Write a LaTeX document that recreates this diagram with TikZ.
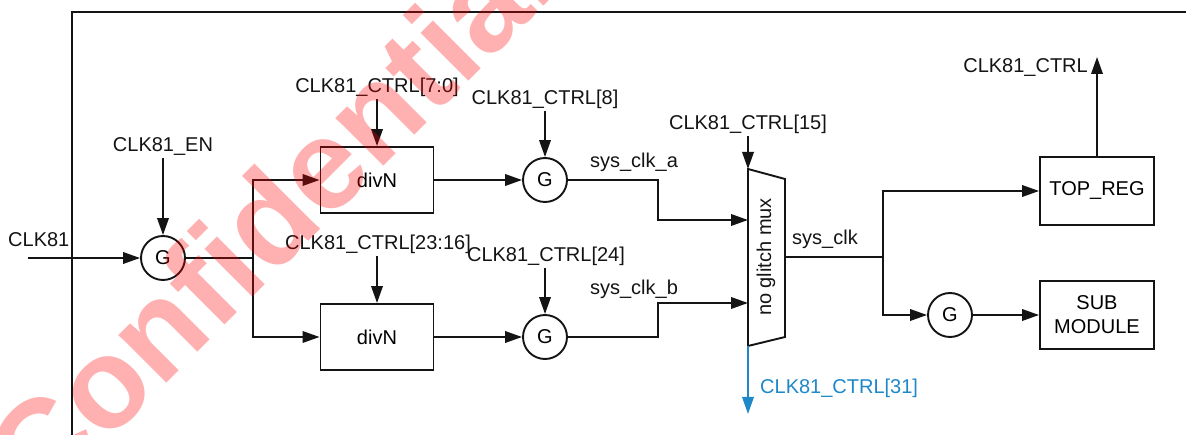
\documentclass[tikz,border=0pt]{standalone}
\usepackage{fontspec}
\setmainfont{Liberation Sans}
\usetikzlibrary{arrows.meta}
\definecolor{ink}{RGB}{20,20,20}
\definecolor{ctrlblue}{RGB}{30,136,200}
\begin{document}
\begin{tikzpicture}[x=1pt,y=-1pt,
  wire/.style={line width=1.9pt,draw=ink},
  arr/.style={wire,-{Triangle[length=17pt,width=11.5pt]}},
  lbl/.style={font=\fontsize{20pt}{24pt}\selectfont,inner sep=2pt,text=ink},
  gate/.style={circle,wire,minimum size=44pt,inner sep=0pt,font=\fontsize{20pt}{24pt}\selectfont},
  blk/.style={rectangle,wire,minimum width=113pt,minimum height=66pt,inner sep=0pt,font=\fontsize{20pt}{24pt}\selectfont,align=center},
]
\useasboundingbox (0,0) rectangle (1186,435);
\clip (0,0) rectangle (1186,435);
\fill[white] (0,0) rectangle (1186,435);

% frame
\draw[wire] (1190,12) -- (72,12) -- (72,440);

% blocks
\node[gate] (g1) at (163,258) {G};
\node[blk] (div1) at (377,180) {divN};
\node[blk] (div2) at (377,337) {divN};
\node[gate] (g2) at (545,180) {G};
\node[gate] (g3) at (545,337) {G};
\node[gate] (g4) at (950,315) {G};
\node[blk,minimum width=114pt,minimum height=68pt] (top) at (1097,191) {TOP\_REG};
\node[blk,minimum width=114pt,minimum height=68pt] (sub) at (1097,315) {SUB\\MODULE};

% mux
\coordinate (muxTL) at (748,169);
\coordinate (muxTR) at (785,179);
\coordinate (muxBR) at (785,337);
\coordinate (muxBL) at (748,346);
\draw[wire] (muxTL) -- (muxTR) -- (muxBR) -- (muxBL) -- cycle;
\node[lbl,rotate=90] (muxt) at (766,257) {no glitch mux};

% labels
\node[lbl,anchor=base west] (lclk) at (6,247) {CLK81};
\node[lbl,anchor=base] (len) at (163,152) {CLK81\_EN};
\node[lbl,anchor=base] (l70) at (377,93) {CLK81\_CTRL[7:0]};
\node[lbl,anchor=base] (l8) at (545,105) {CLK81\_CTRL[8]};
\node[lbl,anchor=base] (l2316) at (378,250) {CLK81\_CTRL[23:16]};
\node[lbl,anchor=base] (l24) at (546,262) {CLK81\_CTRL[24]};
\node[lbl,anchor=base] (l15) at (748,130) {CLK81\_CTRL[15]};
\node[lbl,anchor=base] (la) at (634,168) {sys\_clk\_a};
\node[lbl,anchor=base] (lb) at (634,295) {sys\_clk\_b};
\node[lbl,anchor=base] (lsys) at (825,245) {sys\_clk};
\node[lbl,anchor=base west,text=ctrlblue] (l31) at (758,394) {CLK81\_CTRL[31]};
\node[lbl,anchor=base east] (lctrl) at (1090,73) {CLK81\_CTRL};

% coordinates
\coordinate (clkin) at (28,258);
\coordinate (j1) at (253,258);
\coordinate (kink) at (658,0);
\coordinate (inA) at (748,220);
\coordinate (inB) at (748,303);
\coordinate (muxout) at (785,257);
\coordinate (j2) at (883,257);
\coordinate (c31) at (748,414);
\coordinate (ctrlout) at (1097,57);

% connectors
\draw[arr] (clkin) -- (g1);
\draw[arr] (len) -- (g1);
\draw[wire] (g1) -- (j1);
\draw[arr] (j1) |- (div1);
\draw[arr] (j1) |- (div2);
\draw[arr] (div1 |- l70.south) -- (div1);
\draw[arr] (div2 |- l2316.south) -- (div2);
\draw[arr] (div1) -- (g2);
\draw[arr] (div2) -- (g3);
\draw[arr] (l8) -- (g2);
\draw[arr] (g3 |- l24.south) -- (g3);
\draw[arr] (g2) -- (g2 -| kink) |- (inA);
\draw[arr] (g3) -- (g3 -| kink) |- (inB);
\draw[arr] (l15) -- (muxTL);
\draw[arr,draw=ctrlblue] (muxBL) -- (c31);
\draw[wire] (muxout) -- (j2);
\draw[arr] (j2) |- (top);
\draw[arr] (j2) |- (g4);
\draw[arr] (g4) -- (sub);
\draw[arr] (top) -- (ctrlout);

% watermark
\node[rotate=45,anchor=base west,inner sep=0pt,text=red,text opacity=0.31,
  font=\fontsize{128pt}{128pt}\bfseries\selectfont] (wm) at (40,510) {Confidential};
\end{tikzpicture}
\end{document}
